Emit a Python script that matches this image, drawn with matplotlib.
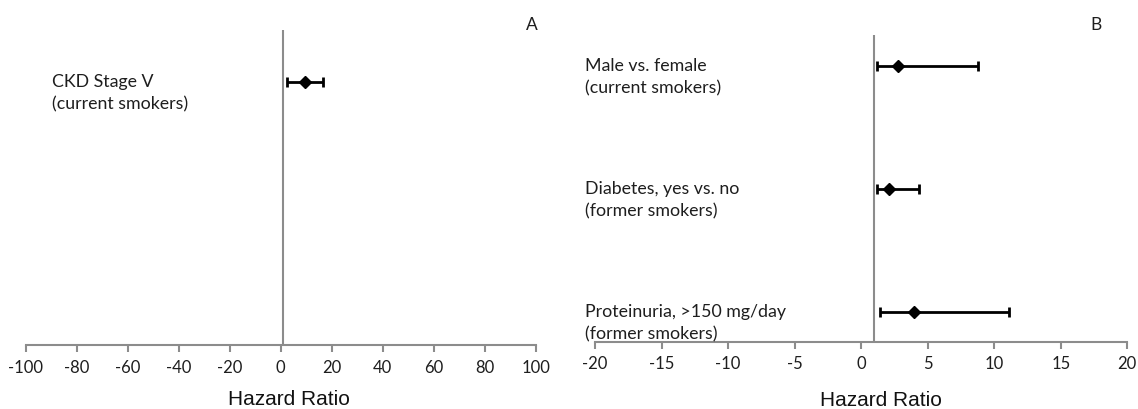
import matplotlib.pyplot as plt
from matplotlib.transforms import offset_copy

# panel A: CKD stage, current smokers
a_labels = ["CKD Stage V\n(current smokers)"]
a_hr = [9.6]
a_lo = [2.3]
a_hi = [16.7]
a_ticks = [-100, -80, -60, -40, -20, 0, 20, 40, 60, 80, 100]

# panel B: other predictors
b_labels = ["Male vs. female\n(current smokers)",
            "Diabetes, yes vs. no\n(former smokers)",
            "Proteinuria, >150 mg/day\n(former smokers)"]
b_hr = [2.8, 2.1, 4.0]
b_lo = [1.17, 1.17, 1.45]
b_hi = [8.8, 4.37, 11.1]
b_ticks = [-20, -15, -10, -5, 0, 5, 10, 15, 20]

W, H = 1138, 410
fig = plt.figure(figsize=(W / 100, H / 100), dpi=100)

label_font = ["Lato", "DejaVu Sans"]
title_font = ["Liberation Sans", "DejaVu Sans"]
grey = "#8c8c8c"
ink = "#1e1e1e"


def px_axes(x0, x1, ytop, ybot):
    return fig.add_axes([x0 / W, 1 - ybot / H, (x1 - x0) / W, (ybot - ytop) / H])


def forest(ax, labels, hr, lo, hi, ticks, ylim, ms, letter, label_x, xlab_pos):
    n = len(labels)
    ys = list(range(n, 0, -1))
    ax.set_xlim(ticks[0], ticks[-1])
    ax.set_ylim(*ylim)
    ax.axvline(1, color=grey, lw=1.5, zorder=1)
    # labels sit a little below their row
    lab_tr = offset_copy(ax.get_yaxis_transform(which="grid"), fig=fig, y=-10, units="dots")
    for y, h, l, u, lab in zip(ys, hr, lo, hi, labels):
        ax.errorbar([h], [y], xerr=[[h - l], [u - h]], fmt="D", color="black",
                    ms=ms, lw=2.0, capsize=3.5, capthick=2.0, zorder=3)
        ax.text(label_x, y, lab, transform=lab_tr, ha="left", va="center",
                fontsize=12.8, family=label_font, linespacing=1.5, color=ink)
    for s in ["left", "right", "top"]:
        ax.spines[s].set_visible(False)
    ax.spines["bottom"].set_color(grey)
    ax.spines["bottom"].set_linewidth(1.5)
    ax.set_yticks([])
    ax.set_xticks(ticks)
    ax.set_xticklabels([str(t) for t in ticks], family=label_font, fontsize=12,
                       color=ink)
    ax.tick_params(axis="x", direction="out", length=5, width=1.5, color=grey, pad=5)
    ax.set_xlabel("Hazard Ratio", family=title_font, fontsize=15, color="#111111")
    ax.xaxis.label.set_va("center")
    ax.xaxis.set_label_coords(*xlab_pos)
    ax.text(letter[1], letter[2], letter[0], transform=ax.transAxes, ha="center",
            va="center", fontsize=12.5, family=label_font, color=ink)


axA = px_axes(25.7, 535.7, 31, 346)
forest(axA, a_labels, a_hr, a_lo, a_hi, a_ticks, (0, 1.199), 6.5,
       ("A", 0.993, 1.02), 0.051, (0.516, -0.171))

axB = px_axes(595, 1127.3, 36, 342.5)
forest(axB, b_labels, b_hr, b_lo, b_hi, b_ticks, (0.763, 3.252), 5.8,
       ("B", 0.941, 1.035), -0.018, (0.538, -0.188))

fig.savefig("out.png", dpi=100)
